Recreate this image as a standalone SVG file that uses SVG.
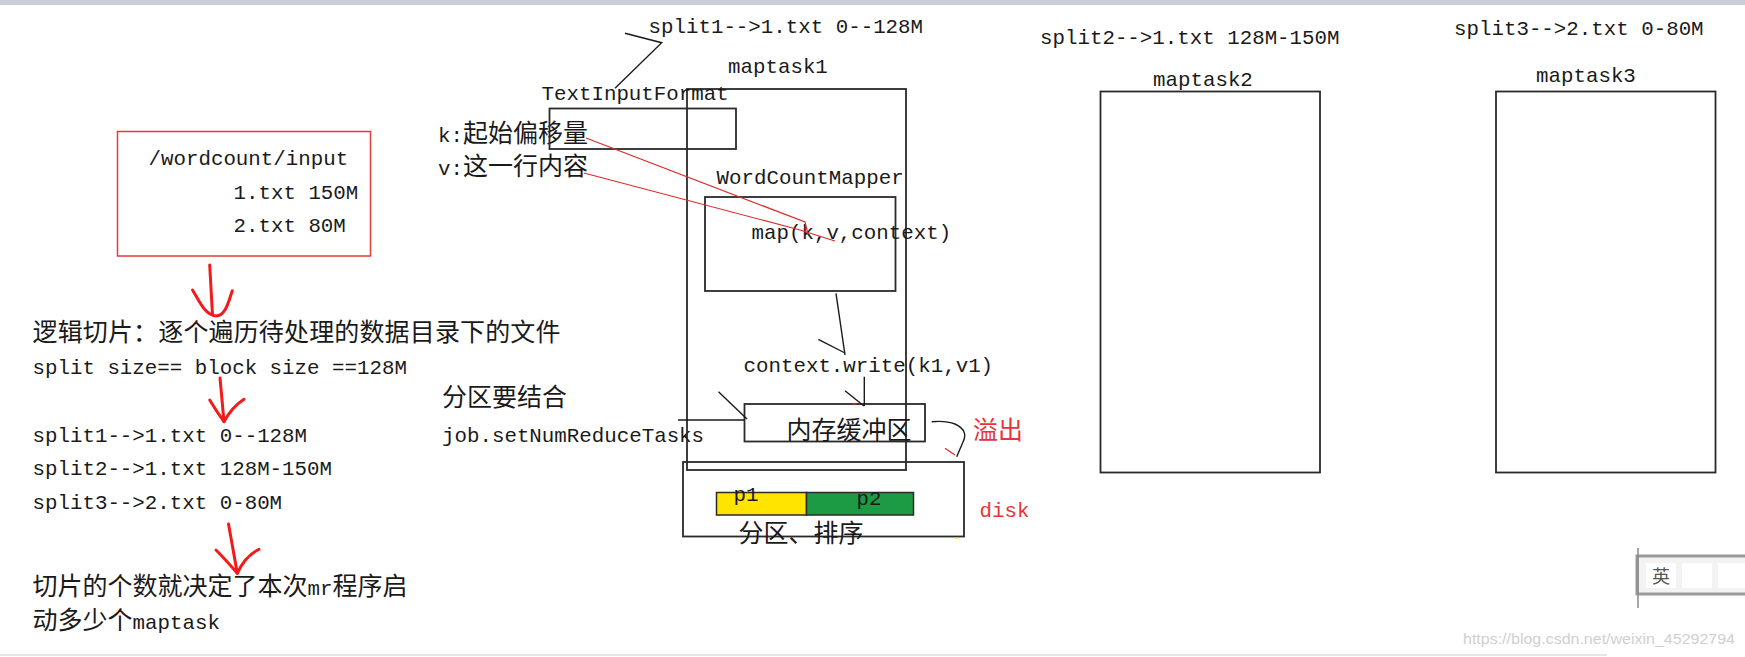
<svg xmlns="http://www.w3.org/2000/svg" width="1745" height="657" viewBox="0 0 1745 657">
<style>
.m{font-family:"Liberation Mono","DejaVu Sans Mono",monospace;font-size:20.8px;fill:#1a1a1a}
.c{font-family:"Noto Sans CJK SC","Noto Sans",sans-serif;font-size:25px;fill:#1a1a1a}
.red{fill:#e8333a}
.box{fill:none;stroke:#2a2a2a;stroke-width:1.8}
.ln{fill:none;stroke:#1a1a1a;stroke-width:1.4}
.rl{fill:none;stroke:#e02a2a;stroke-width:1.2}
.ha{fill:none;stroke:#f21a1a;stroke-width:3;stroke-linecap:round;stroke-linejoin:round}
</style>
<rect x="0" y="0" width="1745" height="657" fill="#ffffff"/>
<rect x="0" y="0" width="1745" height="5" fill="#c8cfda"/>
<rect x="0" y="654" width="1607" height="2" fill="#e6e6e6"/>

<g id="input-box">
<rect x="117.5" y="131.5" width="253" height="124.5" fill="none" stroke="#e53b3b" stroke-width="1.5"/>
<text class="m" x="148.5" y="165">/wordcount/input</text>
<text class="m" x="233.5" y="199">1.txt 150M</text>
<text class="m" x="233.5" y="232">2.txt 80M</text>
</g>

<g id="notes-left">
<text class="c" x="32.5" y="341" textLength="528">逻辑切片：逐个遍历待处理的数据目录下的文件</text>
<text class="m" x="32.5" y="374">split size== block size ==128M</text>
<text class="m" x="32.5" y="441.5">split1--&gt;1.txt 0--128M</text>
<text class="m" x="32.5" y="475">split2--&gt;1.txt 128M-150M</text>
<text class="m" x="32.5" y="509">split3--&gt;2.txt 0-80M</text>
<text x="32.5" y="595"><tspan class="c">切片的个数就决定了本次</tspan><tspan class="m">mr</tspan><tspan class="c">程序启</tspan></text>
<text x="32.5" y="629"><tspan class="c">动多少个</tspan><tspan class="m">maptask</tspan></text>
</g>

<g id="notes-mid">
<text class="c" x="442" y="406">分区要结合</text>
<text class="m" x="442" y="441.5">job.setNumReduceTasks</text>
<text x="438" y="142"><tspan class="m">k:</tspan><tspan class="c">起始偏移量</tspan></text>
<text x="438" y="175"><tspan class="m">v:</tspan><tspan class="c">这一行内容</tspan></text>
</g>

<g id="maptask1">
<text class="m" x="648.5" y="33">split1--&gt;1.txt 0--128M</text>
<text class="m" x="728" y="73">maptask1</text>
<rect class="box" x="687" y="89" width="219" height="381"/>
</g>

<g id="textinputformat">
<text class="m" x="541.5" y="100">TextInputFormat</text>
<rect class="box" x="549.5" y="108.5" width="186.5" height="40.5"/>
</g>

<g id="mapper">
<text class="m" x="716.5" y="184">WordCountMapper</text>
<rect class="box" x="705" y="197" width="190.5" height="94"/>
<text class="m" x="751.5" y="239">map(k,v,context)</text>
</g>

<g id="context-write">
<text class="m" x="743.5" y="371.5">context.write(k1,v1)</text>
</g>

<g id="buffer">
<rect class="box" x="744.5" y="404" width="180.5" height="37.5"/>
<text class="c" x="786.5" y="438.5">内存缓冲区</text>
<text class="c red" x="973" y="438.5">溢出</text>
</g>

<g id="disk">
<rect class="box" x="683" y="462" width="281" height="74.5"/>
<rect id="p1" x="716.5" y="492.5" width="90" height="22.5" fill="#ffe400" stroke="#2a2a2a" stroke-width="1.5"/>
<rect id="p2" x="806.5" y="492.5" width="107" height="22.5" fill="#1c9a44" stroke="#2a2a2a" stroke-width="1.5"/>
<text class="m" x="733.5" y="500.5">p1</text>
<text class="m" x="856.5" y="505">p2</text>
<text class="c" x="738.5" y="541.5">分区、排序</text>
<text class="m red" x="979.5" y="516.5">disk</text>
</g>

<g id="maptask2">
<text class="m" x="1040" y="44">split2--&gt;1.txt 128M-150M</text>
<text class="m" x="1153" y="86">maptask2</text>
<rect class="box" x="1100.5" y="91.5" width="219.5" height="381"/>
</g>

<g id="maptask3">
<text class="m" x="1454" y="35">split3--&gt;2.txt 0-80M</text>
<text class="m" x="1536" y="81.5">maptask3</text>
<rect class="box" x="1496" y="91.5" width="219.5" height="381"/>
</g>

<g id="connectors">
<polyline class="ln" points="625,33.3 661.7,42.7 615,88.3"/>
<polyline class="rl" points="586,138 805,222 808,234"/>
<polyline class="rl" points="584,173 800,230 835,241"/>
<line class="ln" x1="836" y1="293.3" x2="845" y2="355"/>
<line class="ln" x1="818.3" y1="339.3" x2="845" y2="353"/>
<line class="ln" x1="864.3" y1="376.7" x2="864.3" y2="406"/>
<line class="ln" x1="845" y1="390.7" x2="864" y2="406"/>
<circle cx="854.3" cy="404" r="1.2" fill="#e02a2a"/>
<line class="ln" x1="678" y1="420" x2="744.5" y2="420"/>
<line class="ln" x1="718.5" y1="391.7" x2="747" y2="419"/>
<path class="ln" d="M931.7,421.7 C940,421 950,422 955,424 C966,429 966,436 963,442 L956.7,456.7"/>
<line x1="945" y1="448.3" x2="955" y2="455" stroke="#e02a2a" stroke-width="1.2"/>
<circle cx="956.5" cy="538" r="1" fill="#f0d000"/>
<path class="ha" d="M209.7,265 L212.5,315"/>
<path class="ha" d="M192.5,290 C200,302 205,315 216,316 C226,316 229,300 232.3,290.7"/>
<path class="ha" d="M220,378 L224,421.7"/>
<path class="ha" d="M209.7,400 Q217,412 224,421.7 Q232,407 244,399.3"/>
<path class="ha" d="M228.5,524 L237.3,573.3"/>
<path class="ha" d="M216,550 Q226,560 237.3,573.3 Q245,556 259,549.3"/>
</g>

<g id="ime-toolbar">
<rect x="1637" y="556" width="110" height="38" fill="#f3f3f3" stroke="#9a9a9a" stroke-width="3"/>
<rect x="1646" y="563" width="30" height="25" fill="#ffffff"/>
<rect x="1682" y="563" width="30" height="25" fill="#ffffff"/>
<rect x="1718" y="563" width="27" height="25" fill="#ffffff"/>
<text x="1652" y="583" font-family="Noto Sans CJK SC, sans-serif" font-size="18" fill="#555555">英</text>
<line x1="1638" y1="548" x2="1638" y2="608" stroke="#8a8a8a" stroke-width="1.5"/>
</g>

<text x="1463" y="644" font-family="Liberation Sans, Arial, sans-serif" font-size="15" fill="#d0d0d0" textLength="272" lengthAdjust="spacingAndGlyphs">https://blog.csdn.net/weixin_45292794</text>
</svg>
